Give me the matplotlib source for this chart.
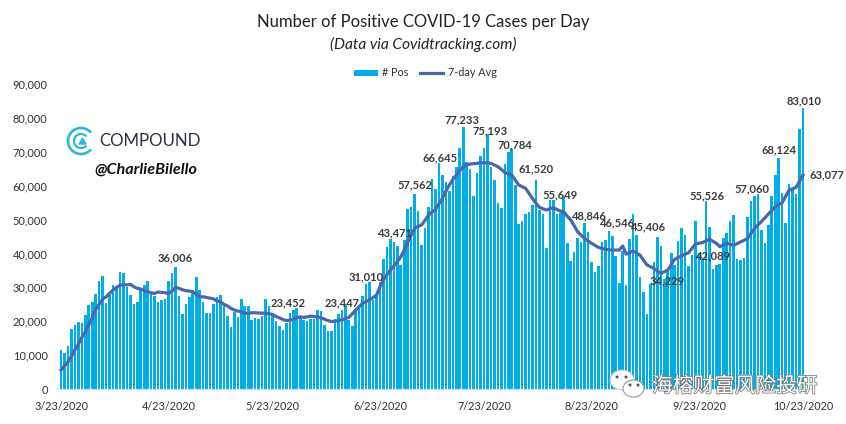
import numpy as np
import pandas as pd
import matplotlib
matplotlib.use("Agg")
import matplotlib.pyplot as plt
import matplotlib.patheffects as pe
from matplotlib.patches import Arc, Ellipse, Polygon

plt.rcParams['font.family'] = ['Lato', 'DejaVu Sans']

start_date = "2020-03-23"
end_date = "2020-10-23"
tick_labels = ["3/23/2020", "4/23/2020", "5/23/2020", "6/23/2020", "7/23/2020",
               "8/23/2020", "9/23/2020", "10/23/2020"]
y_ticks = [0, 10000, 20000, 30000, 40000, 50000, 60000, 70000, 80000, 90000]

daily_k = [
 11.5,10.5,12.7,17.7,18.8,19.7,19.4,21.8,24.8,25.7,28.0,31.9,33.3,25.5,28.7,30.7,29.7,34.5,34.2,30.0,
 27.7,25.2,25.8,29.4,30.7,31.9,28.2,27.5,25.7,26.3,26.7,31.9,34.2,36.0,27.5,22.1,25.2,27.1,28.2,33.0,
 29.2,25.7,22.4,22.4,25.0,27.2,27.7,24.8,21.5,18.3,22.8,21.2,26.5,24.5,24.5,20.4,20.9,20.6,21.5,26.5,
 24.5,21.5,20.0,18.6,17.4,19.5,22.3,23.3,23.9,21.5,20.4,20.2,20.6,20.6,23.3,23.0,18.9,17.1,17.1,20.6,
 22.1,23.3,24.8,20.4,18.6,23.5,23.8,27.4,30.9,31.7,26.3,27.7,31.7,38.5,41.8,44.2,43.5,42.2,36.6,44.1,
 53.0,53.6,57.5,52.5,42.5,47.4,53.8,62.1,58.9,66.6,63.1,61.0,58.4,62.8,65.4,71.0,77.2,66.9,64.9,56.9,
 63.6,68.9,71.0,75.2,65.4,61.6,55.0,53.4,66.4,69.9,70.7,60.2,48.6,49.6,51.6,52.1,54.3,61.6,52.8,51.6,
 41.6,55.7,55.7,51.5,51.8,56.7,43.0,37.8,40.3,44.7,43.5,48.9,46.2,37.4,34.4,36.3,43.3,44.0,46.6,45.1,
 39.3,31.2,40.7,30.6,44.2,51.6,45.4,33.0,28.6,22.1,31.0,37.5,44.8,42.2,32.6,35.4,40.0,36.5,43.7,47.4,
 45.4,36.3,39.5,49.6,40.0,38.5,55.5,47.8,35.4,36.6,37.0,44.5,45.9,49.6,51.2,38.3,38.0,38.6,50.7,55.5,
 56.9,57.5,46.9,43.0,48.4,56.9,63.1,68.1,57.8,48.9,60.5,59.0,57.5,76.7,83.0]

avg_k = [
 5.6,6.8,8.0,9.6,11.5,13.2,15.2,16.9,18.9,21.0,23.4,25.0,26.5,27.2,28.2,29.2,30.0,30.6,30.8,30.7,
 30.9,30.2,29.7,29.5,29.0,28.7,28.4,28.2,28.6,28.5,28.4,28.2,28.9,30.0,29.7,29.3,29.0,28.9,28.7,27.9,
 27.2,27.2,27.0,26.8,26.6,26.0,25.7,25.0,24.5,23.8,23.3,23.0,22.8,22.4,22.3,22.5,22.5,22.4,22.4,22.3,
 22.2,22.0,21.4,21.0,20.5,20.2,20.3,20.6,21.0,21.3,21.1,21.3,21.5,21.4,21.3,21.0,20.6,20.2,19.9,20.0,
 20.2,20.4,20.8,21.1,22.2,23.3,24.3,25.3,25.8,26.3,27.0,27.7,30.2,32.2,33.7,35.1,36.3,37.6,39.0,41.0,
 43.3,45.4,47.4,48.0,48.4,49.8,51.3,52.2,53.0,54.6,56.2,58.3,60.2,61.8,63.1,64.4,65.6,66.1,66.4,66.5,
 66.6,66.7,66.8,66.7,66.6,66.1,65.6,64.8,63.9,63.5,63.1,61.7,60.2,59.7,59.2,57.7,56.2,54.8,53.6,53.2,
 52.8,53.2,53.5,53.0,52.5,52.3,51.0,49.9,48.2,46.4,45.4,44.4,43.7,43.0,42.4,41.8,41.5,41.2,41.1,41.0,
 41.0,41.0,42.2,39.8,40.3,40.7,40.1,39.5,38.0,36.6,36.1,35.6,34.8,34.1,34.6,35.1,36.7,38.3,38.8,39.3,
 39.8,40.2,41.5,42.8,43.0,43.2,43.7,44.2,43.6,43.0,42.0,42.5,43.0,42.7,42.4,42.9,43.4,43.9,44.4,45.9,
 47.4,48.4,49.4,50.5,51.6,52.7,53.8,54.4,55.0,56.9,58.7,59.1,59.5,61.3,63.1]

label_texts = ["36,006","23,452","23,447","31,010","43,471","57,562","66,645","77,233",
               "75,193","70,784","61,520","55,649","48,846","46,546","45,406","34,229",
               "55,526","42,089","57,060","68,124","83,010","63,077"]
label_days = [33,65,81,88,96,102,109,116,123,130,137,145,153,159,167,175,187,188,198,206,214,214]
label_values = [36006,23452,23447,31010,43471,57562,66645,77233,75193,70784,61520,55649,
                48846,46546,45406,34229,55526,42089,57060,68124,83010,63077]
# label offsets in pixels from each labelled point
label_dx = [0,2,0,0,2,0,1,-1,3,3,0,-4,-2,5,8,-1,-2,1,4,4,1,24]
label_dy = [9,7,7,7,9,9,5,7,3,4,12,6,8,8,8,-8,5,-9,7,8,7,0]

dates = pd.date_range(start_date, end_date, freq="D")
days = np.arange(len(dates))
tick_pos = [(pd.Timestamp(t) - dates[0]).days for t in tick_labels]

W, H = 846, 424
fig = plt.figure(figsize=(W/100, H/100), dpi=100, facecolor="white")
# axes frame in pixels: x 56..811, y 84..389
ax = fig.add_axes([56/W, 1-389/H, 755/W, 305/H])
px_per_day = 742/214
ax.set_xlim(-5/px_per_day, (811-61)/px_per_day)
ax.set_ylim(0, 90000)

bars = ax.bar(days, np.array(daily_k)*1000, width=0.75, color="#00ADE6", label="# Pos", zorder=2)
line, = ax.plot(days, np.array(avg_k)*1000, color="#4A66B0", lw=2.3, label="7-day Avg", zorder=3,
                solid_joinstyle="round")

for s in ["top", "right", "left"]:
    ax.spines[s].set_visible(False)
ax.spines["bottom"].set_color("#BFE6F2")
ax.spines["bottom"].set_linewidth(0.8)
ax.set_yticks(y_ticks)
ax.set_yticklabels([f"{v:,}" for v in y_ticks], fontsize=7.9, color="#303030")
ax.set_xticks(tick_pos)
ax.set_xticklabels(tick_labels, fontsize=7.8, color="#303030")
ax.tick_params(axis="x", length=0, pad=8.5)
ax.tick_params(axis="y", length=0, pad=6)

for t, d, v, dx, dy in zip(label_texts, label_days, label_values, label_dx, label_dy):
    ax.annotate(t, xy=(d, v), xytext=(dx*0.72, dy*0.72), textcoords="offset points",
                ha="center", va="center", fontsize=8.0, color="#3A3A3A",
                fontweight="bold", zorder=5)

fig.text(423/W, 1-22/H, "Number of Positive COVID-19 Cases per Day", ha="center", va="center",
         fontsize=12.0, color="#222222")
fig.text(423/W, 1-44/H, "(Data via Covidtracking.com)", ha="center", va="center",
         fontsize=11.2, style="italic", color="#222222")

fig.legend(handles=[bars, line], labels=["# Pos", "7-day Avg"], ncol=2, frameon=False,
           loc="center", bbox_to_anchor=(425.5/W, 1-73/H), fontsize=7.8, handlelength=2.2,
           handleheight=0.5, columnspacing=1.0, handletextpad=0.4, labelcolor="#303030")

# overlay in pixel coordinates
ov = fig.add_axes([0, 0, 1, 1], facecolor="none", zorder=10)
ov.set_xlim(0, W); ov.set_ylim(H, 0); ov.axis("off")
ov.add_patch(Arc((81, 141), 26, 26, theta1=40, theta2=320, color="#2CB7D8", lw=1.9))
ov.add_patch(Arc((81, 141), 14, 14, theta1=40, theta2=320, color="#2CB7D8", lw=1.6))
ov.add_patch(Polygon([[79, 144], [86, 144], [82.5, 138]], closed=True, color="#2CB7D8"))
ov.text(99, 141, "COMPOUND", fontsize=12.2, color="#2A2E45", va="center", ha="left")
ov.text(94, 170, "@CharlieBilello", fontsize=11.6, style="italic", fontweight="bold",
        color="#111111", va="center", ha="left")

ov.add_patch(Ellipse((622, 380), 24, 20, fc="white", ec="#BBBBBB", lw=0.6))
ov.add_patch(Ellipse((633.5, 388.5), 21, 17, fc="white", ec="#999999", lw=0.8))
for cx, cy in [(617, 377), (626, 377), (630, 385), (638, 385)]:
    ov.add_patch(Ellipse((cx, cy), 3, 3, fc="#555555", ec="none"))
ov.text(652, 386, "海榕财富风险投研", family=["Noto Sans CJK SC", "DejaVu Sans"], fontsize=14.9,
        color="white", va="center", ha="left",
        path_effects=[pe.withStroke(linewidth=1.1, foreground="#777777")])

fig.savefig("out.png", dpi=100, facecolor="white")
